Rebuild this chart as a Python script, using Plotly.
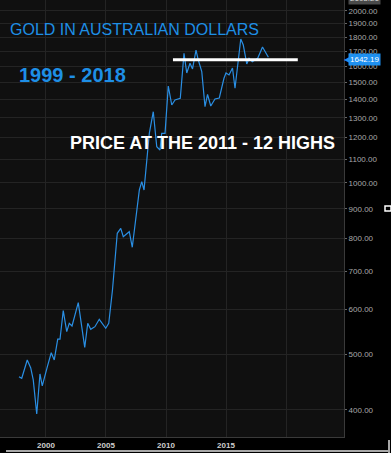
import math
import plotly.graph_objects as go

# Gold price in Australian dollars (decimal year, AUD/oz)
years = [1997.75, 1997.98, 1998.44, 1998.73, 1998.94, 1999.23, 1999.50, 1999.69,
         2000.11, 2000.44, 2000.69, 2000.98, 2001.17, 2001.44, 2001.73, 2001.94,
         2002.17, 2002.69, 2003.23, 2003.48, 2003.73, 2004.08, 2004.44, 2004.98,
         2005.23, 2005.39, 2005.54, 2005.94, 2006.23, 2006.44, 2006.94, 2007.19,
         2007.78, 2007.98, 2008.17, 2008.61, 2008.94, 2009.23, 2009.50, 2009.64,
         2009.92, 2010.19, 2010.48, 2010.75, 2011.19, 2011.50, 2011.73, 2012.00,
         2012.21, 2012.50, 2012.69, 2012.98, 2013.25, 2013.46, 2013.73, 2014.08,
         2014.44, 2014.83, 2015.00, 2015.25, 2015.54, 2015.75, 2016.23, 2016.44,
         2016.73, 2016.92, 2017.19, 2017.42, 2017.64, 2018.04, 2018.39, 2018.53]
gold_aud = [457.5, 454.6, 489.4, 473.8, 451.5, 393.6, 462.5, 440.7,
            475.8, 503.9, 489.4, 532.1, 532.1, 597.1, 548.5, 567.4,
            561.2, 616.7, 515.0, 567.4, 553.8, 559.7, 576.6, 556.1,
            567.4, 601.2, 649.0, 815.6, 832.2, 804.5, 820.9, 771.0,
            971.4, 1004.4, 971.4, 1220.7, 1332.0, 1156.6, 1141.3, 1220.7,
            1220.7, 1477.4, 1368.4, 1396.4, 1405.9, 1685.5, 1557.2, 1619.4,
            1582.5, 1708.2, 1640.6, 1565.4, 1359.1, 1427.7, 1362.9, 1402.0,
            1407.6, 1524.3, 1557.2, 1544.7, 1588.9, 1463.8, 1785.6, 1742.9,
            1614.8, 1651.9, 1629.8, 1640.6, 1651.9, 1728.9, 1674.0, 1658.6]

# 2011-12 highs level line
level_value = 1642.19
level_years = [2010.58, 2020.98]
top_value = 2103.21

y_ticks = [400, 500, 600, 700, 800, 900, 1000, 1100, 1200, 1300, 1400,
           1500, 1600, 1700, 1800, 1900, 2000]
y_labels = [f"{v:.2f}" for v in y_ticks]
x_ticks = [2000, 2005, 2010, 2015, 2020]
x_labels = ["2000", "2005", "2010", "2015", ""]

BLUE = "#1e8fe6"
FONT = "Liberation Sans, Arial, sans-serif"

fig = go.Figure()
fig.add_trace(go.Scatter(x=years, y=gold_aud, mode="lines",
                         line=dict(color="#2a8fe4", width=1.2),
                         hoverinfo="skip"))
fig.add_trace(go.Scatter(x=level_years, y=[level_value, level_value], mode="lines",
                         line=dict(color="#ffffff", width=3), hoverinfo="skip"))

fig.update_layout(
    width=391, height=453,
    margin=dict(l=0, r=47, t=0, b=16),
    paper_bgcolor="#000000", plot_bgcolor="#101010",
    showlegend=False,
    font=dict(family=FONT),
    xaxis=dict(range=[1996.17, 2024.83], tickvals=x_ticks, ticktext=x_labels,
               showgrid=True, gridcolor="#242424", gridwidth=1, zeroline=False,
               showline=True, linecolor="#3a3a3a", linewidth=1, ticks="",
               tickfont=dict(size=8, color="#cfcfcf", weight="bold")),
    yaxis=dict(type="log", side="right",
               range=[math.log10(358.7), math.log10(2090)],
               tickvals=y_ticks, ticktext=y_labels,
               showgrid=True, gridcolor="#242424", gridwidth=1, zeroline=False,
               showline=True, linecolor="#3a3a3a", linewidth=1,
               ticks="outside", ticklen=2, tickcolor="#666666",
               tickfont=dict(size=8, color="#a8a8a8")),
)

fig.add_annotation(xref="paper", yref="paper", x=0.023, y=0.9336,
                   xanchor="left", yanchor="middle", showarrow=False,
                   text="GOLD IN AUSTRALIAN DOLLARS",
                   font=dict(size=16, color=BLUE, family=FONT))
fig.add_annotation(xref="paper", yref="paper", x=0.049, y=0.8284,
                   xanchor="left", yanchor="middle", showarrow=False,
                   text="<b>1999 - 2018</b>",
                   font=dict(size=20, color=BLUE, family=FONT))
fig.add_annotation(xref="paper", yref="paper", x=0.199, y=0.6728,
                   xanchor="left", yanchor="middle", showarrow=False,
                   text="<b>PRICE AT THE 2011 - 12 HIGHS</b>",
                   font=dict(size=18, color="#ffffff", family=FONT))

# price labels on the axis
fig.add_annotation(xref="paper", yref="y", x=1, y=math.log10(level_value),
                   xanchor="left", yanchor="middle", showarrow=False, xshift=4,
                   text=f"{level_value:.2f}", bgcolor="#1e90f0", borderpad=1,
                   font=dict(size=8, color="#ffffff", family=FONT))
fig.add_annotation(xref="paper", yref="y", x=1, y=math.log10(level_value),
                   xanchor="left", yanchor="middle", showarrow=False, xshift=-2,
                   text="◀", font=dict(size=8, color="#1e90f0", family="DejaVu Sans"))
fig.add_annotation(xref="paper", yref="paper", x=1, y=1,
                   xanchor="left", yanchor="middle", showarrow=False,
                   xshift=4, yshift=1.5,
                   text=f"{top_value:.2f}", bgcolor="#4a4a4a", borderpad=1,
                   font=dict(size=8, color="#dddddd", family=FONT))

# screenshot frame decorations
fig.add_shape(type="rect", xref="paper", yref="paper",
              x0=385 / 344, x1=391 / 344, y0=1 - 211 / 437, y1=1 - 206 / 437,
              line=dict(color="#ffffff", width=1.5), fillcolor="#000000")
fig.add_shape(type="line", xref="paper", yref="paper",
              x0=6 / 344, x1=388 / 344, y0=1 - 451 / 437, y1=1 - 451 / 437,
              line=dict(color="#e0e0e0", width=1.5))
fig.add_shape(type="line", xref="paper", yref="paper",
              x0=389 / 344, x1=389 / 344, y0=1 - 440 / 437, y1=1 - 453 / 437,
              line=dict(color="#e0e0e0", width=1.5))

fig.write_html("out.html", config={"displayModeBar": False},
               post_script="document.body.style.margin='0';document.body.style.overflow='hidden';")
